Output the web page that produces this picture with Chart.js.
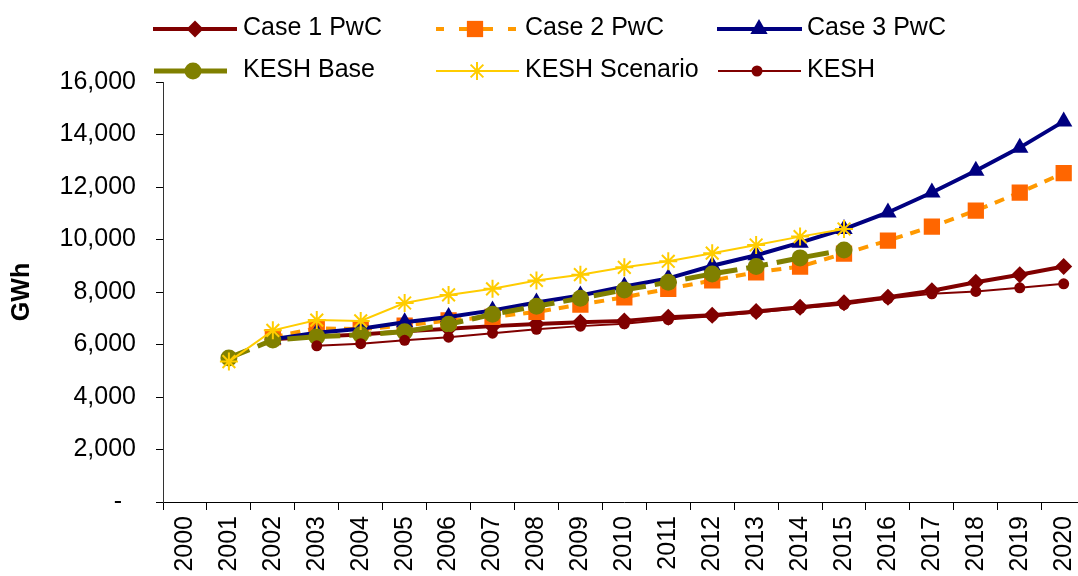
<!DOCTYPE html>
<html>
<head>
<meta charset="utf-8">
<title>KESH demand forecast</title>
<script src="https://cdn.jsdelivr.net/npm/chart.js@4/dist/chart.umd.min.js"></script>
<style>
    html, body { margin: 0; padding: 0; background: #fff; overflow: hidden; }
    #wrap { position: relative; width: 1100px; height: 576px; }
</style>
</head>
<body>
<div id="wrap"><canvas id="gwhChart"></canvas></div>
<script>
// Chart data (GWh)
const years = ['2000', '2001', '2002', '2003', '2004', '2005', '2006', '2007', '2008', '2009', '2010',
               '2011', '2012', '2013', '2014', '2015', '2016', '2017', '2018', '2019', '2020'];
const case1PwC = [null, null, 6200, 6300, 6380, 6500, 6600, 6700, 6780, 6850, 6900,
                  7040, 7110, 7260, 7420, 7590, 7800, 8050, 8370, 8660, 8970];
const case2PwC = [null, null, 6280, 6620, 6580, 6720, 6920, 7050, 7240, 7520, 7800,
                  8120, 8440, 8750, 8970, 9460, 9960, 10490, 11100, 11790, 12530];
const case3PwC = [null, null, 6200, 6450, 6600, 6850, 7050, 7300, 7600, 7870, 8210,
                  8520, 9000, 9400, 9880, 10400, 11030, 11790, 12620, 13500, 14500];
const keshBase = [null, 5490, 6170, 6300, 6370, 6490, 6770, 7150, 7460, 7760, 8080,
                  8370, 8690, 8970, 9300, 9600, null, null, null, null, null];
const keshScenario = [null, 5350, 6540, 6930, 6900, 7580, 7890, 8120, 8440, 8660, 8940,
                      9170, 9480, 9790, 10110, 10400, null, null, null, null, null];
const kesh = [null, null, null, 5950, 6030, 6160, 6280, 6430, 6580, 6700, 6790,
              6950, 7080, 7220, 7380, 7520, 7750, 7930, 8020, 8160, 8310];

const FONT = 'Arial, "Liberation Sans", sans-serif';
Chart.defaults.font.family = FONT;
Chart.defaults.font.size = 25;
Chart.defaults.color = '#000';

const seriesStyles = [
    { label: 'Case 1 PwC', data: case1PwC, line: '#800000', fill: '#800000', width: 4, dash: [], point: 'rectRot', r: 8.5, order: 6,
      legend: { x1: 153, x2: 237, mx: 195, tx: 243, y: 29 } },
    { label: 'Case 2 PwC', data: case2PwC, line: '#FF9900', fill: '#FF6600', width: 4, dash: [10, 8], point: 'rect', r: 11.5, order: 5,
      legend: { x1: 436, x2: 517, mx: 475, tx: 525, y: 29 } },
    { label: 'Case 3 PwC', data: case3PwC, line: '#000080', fill: '#000080', width: 4, dash: [], point: 'triangle', r: 10, order: 4,
      legend: { x1: 717, x2: 802, mx: 759, tx: 807, y: 29 } },
    { label: 'KESH Base', data: keshBase, line: '#808000', fill: '#808000', width: 5, dash: [22, 9], point: 'circle', r: 8.5, order: 3,
      legend: { x1: 154, x2: 227, mx: 193, tx: 243, y: 71 } },
    { label: 'KESH Scenario', data: keshScenario, line: '#FFCC00', fill: '#FFCC00', width: 2, dash: [], point: 'star', r: 9, order: 2,
      legend: { x1: 436, x2: 519, mx: 477, tx: 525, y: 71 } },
    { label: 'KESH', data: kesh, line: '#800000', fill: '#800000', width: 2, dash: [], point: 'circle', r: 5.5, order: 1,
      legend: { x1: 718, x2: 801, mx: 757, tx: 807, y: 71 } }
];

function drawMarker(ctx, style, x, y, r, color) {
    ctx.save();
    ctx.fillStyle = color;
    ctx.strokeStyle = color;
    ctx.setLineDash([]);
    ctx.beginPath();
    if (style === 'rectRot') {
        ctx.moveTo(x - r, y); ctx.lineTo(x, y - r); ctx.lineTo(x + r, y); ctx.lineTo(x, y + r);
        ctx.closePath(); ctx.fill();
    } else if (style === 'rect') {
        const s = r * Math.SQRT1_2;
        ctx.rect(x - s, y - s, 2 * s, 2 * s); ctx.fill();
    } else if (style === 'triangle') {
        ctx.moveTo(x, y - r); ctx.lineTo(x + r * 0.866, y + r / 2); ctx.lineTo(x - r * 0.866, y + r / 2);
        ctx.closePath(); ctx.fill();
    } else if (style === 'circle') {
        ctx.arc(x, y, r, 0, Math.PI * 2); ctx.fill();
    } else if (style === 'star') {
        ctx.lineWidth = 2;
        for (let i = 0; i < 4; i++) {
            const a = i * Math.PI / 4;
            ctx.moveTo(x - Math.sin(a) * r, y - Math.cos(a) * r);
            ctx.lineTo(x + Math.sin(a) * r, y + Math.cos(a) * r);
        }
        ctx.stroke();
    }
    ctx.restore();
}

// legend drawn by hand in two rows of three, like the original
const legendPlugin = {
    id: 'twoRowLegend',
    afterDraw(chart) {
        const ctx = chart.ctx;
        seriesStyles.forEach(function(s) {
            const L = s.legend;
            ctx.save();
            ctx.strokeStyle = s.line;
            ctx.lineWidth = s.width;
            // only Case 2 is dashed in the legend key
            ctx.setLineDash(s.label === 'Case 2 PwC' ? [8, 16] : []);
            ctx.beginPath();
            ctx.moveTo(L.x1, L.y);
            ctx.lineTo(L.x2, L.y);
            ctx.stroke();
            if (s.label === 'Case 2 PwC') {
                ctx.setLineDash([]);
                ctx.beginPath();
                ctx.moveTo(L.mx - 16, L.y);
                ctx.lineTo(L.mx + 18, L.y);
                ctx.stroke();
            }
            ctx.restore();
            drawMarker(ctx, s.point, L.mx, L.y, s.r, s.fill);
            ctx.save();
            ctx.fillStyle = '#000';
            ctx.font = '25px ' + FONT;
            ctx.textBaseline = 'alphabetic';
            ctx.textAlign = 'left';
            ctx.fillText(s.label, L.tx, L.y + 6);
            ctx.restore();
        });
    }
};

new Chart(document.getElementById('gwhChart'), {
    type: 'line',
    data: {
        labels: years,
        datasets: seriesStyles.map(function(s) {
            return {
                label: s.label,
                data: s.data,
                order: s.order,
                borderColor: s.line,
                backgroundColor: s.fill,
                borderWidth: s.width,
                borderDash: s.dash,
                pointStyle: s.point,
                pointRadius: s.r,
                pointBackgroundColor: s.fill,
                pointBorderColor: s.fill,
                pointBorderWidth: s.point === 'star' ? 2 : 0,
                tension: 0,
                spanGaps: false
            };
        })
    },
    options: {
        responsive: true,
        maintainAspectRatio: false,
        animation: false,
        layout: { padding: { top: 82, right: 13, left: 0, bottom: 0 } },
        plugins: {
            legend: { display: false },
            tooltip: { enabled: false }
        },
        scales: {
            x: {
                offset: true,
                grid: { offset: true, drawOnChartArea: false, drawTicks: true, tickLength: 8, color: '#000' },
                border: { display: true, color: '#000', width: 1 },
                ticks: { autoSkip: false, maxRotation: 90, minRotation: 90, padding: 6, font: { size: 25 } },
                afterFit: function(scale) { scale.height = 74; }
            },
            y: {
                min: 0,
                max: 16000,
                ticks: {
                    stepSize: 2000,
                    padding: 20,
                    font: { size: 25 },
                    callback: function(v) { return v === 0 ? '-  ' : v.toLocaleString('en-US'); }
                },
                grid: { drawOnChartArea: false, drawTicks: true, tickLength: 7, color: '#000' },
                border: { display: true, color: '#333', width: 1 },
                title: { display: true, text: 'GWh', font: { size: 25, weight: 'bold' }, padding: { top: 7, bottom: 0 } },
                afterFit: function(scale) { scale.width = 163; }
            }
        }
    },
    plugins: [legendPlugin]
});
</script>
</body>
</html>
